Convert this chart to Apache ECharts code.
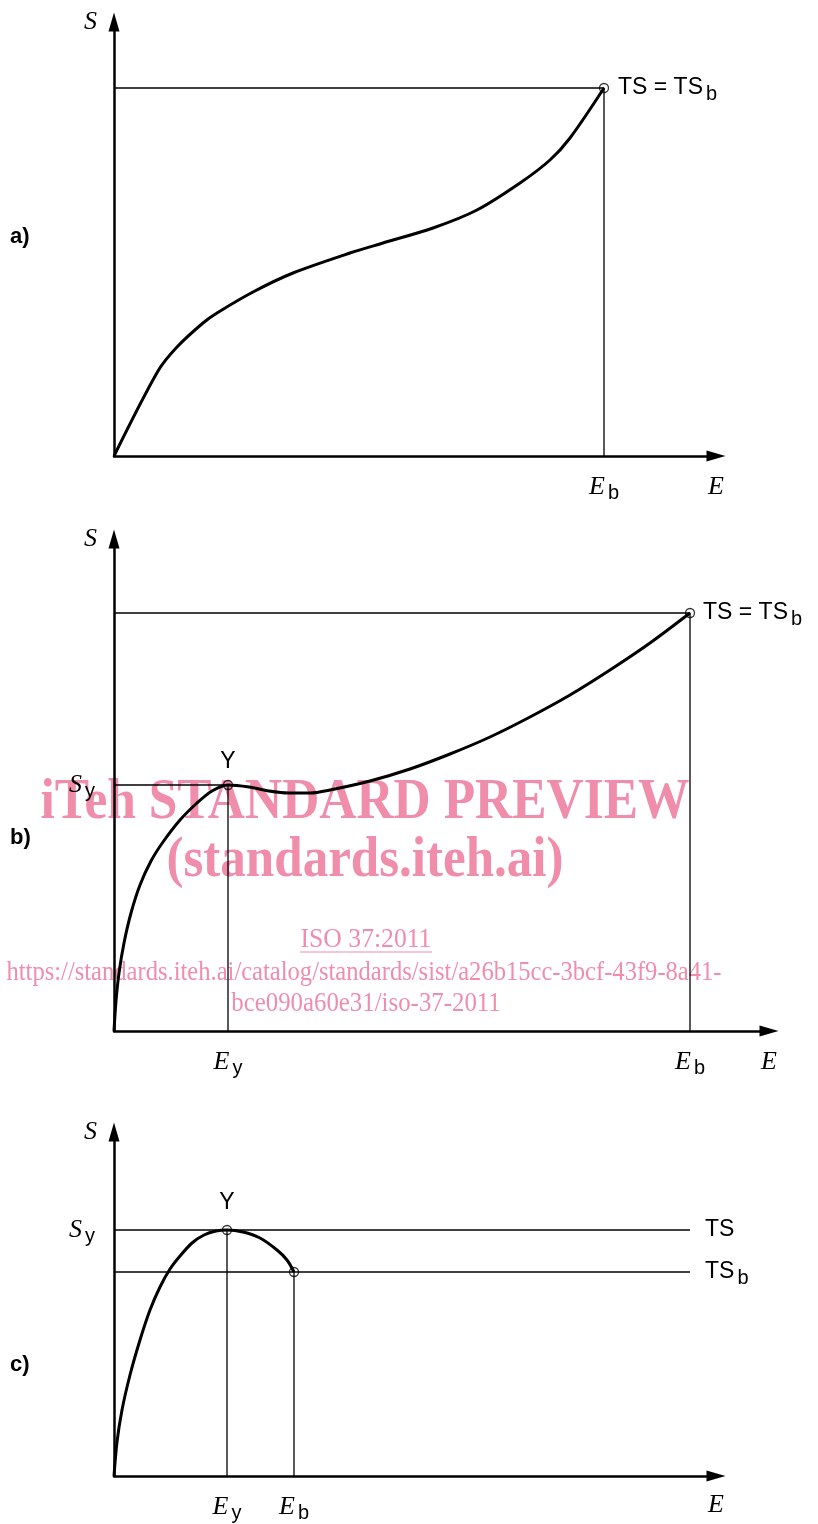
<!DOCTYPE html>
<html>
<head>
<meta charset="utf-8">
<script src="https://cdn.jsdelivr.net/npm/echarts@6/dist/echarts.min.js"></script>
<style>
  html, body { margin: 0; padding: 0; background: #fff; }
  #chart { width: 818px; height: 1524px; }
</style>
</head>
<body>
<div id="chart"></div>
<script>
// values are in plot units (E to the right, S upwards, origin at the axes' corner)

// a) curve without yield point
const aCurveE = [0, 44, 63, 89, 103, 139, 179, 236, 269, 319, 363, 406, 436, 456, 490];
const aCurveS = [0, 85, 109, 133, 143, 164, 183, 203, 213, 228, 246, 273, 296, 318, 368];
const aEb = 490, aTSb = 368;
const aAxisMax = [602, 434];

// b) yield point, break above it
const bCurveE = [0, 2, 5, 10, 17, 26, 37, 49, 66, 83, 98, 114, 135, 155, 175, 196, 216, 256, 296, 336, 376, 416, 456, 496, 536, 576];
const bCurveS = [0, 30, 58, 88, 118, 146, 170, 189, 211, 228, 240, 246, 244, 240, 238, 238, 241, 250, 262, 277, 294, 314, 336, 361, 388, 418];
const bEy = 114, bSy = 246, bEb = 576, bTSb = 418;
const bAxisMax = [655, 492];

// c) yield point is the maximum, break below it
const cCurveE = [0, 3, 8, 16, 26, 36, 46, 56, 66, 78, 90, 102, 113, 129, 146, 163, 173, 180];
const cCurveS = [0, 34, 66, 101, 136, 166, 189, 207, 220, 233, 241, 245, 246, 244, 238, 226, 216, 204];
const cEy = 113, cSy = 246, cEb = 180, cTSb = 204;
const cLineEnd = 576;
const cAxisMax = [602, 344];

const pink = '#ef8dab';
const serif = '"Liberation Serif", "Times New Roman", serif';
const sans = '"Liberation Sans", Arial, sans-serif';

const zip = (xs, ys) => xs.map((x, i) => [x, ys[i]]);

const chart = echarts.init(document.getElementById('chart'));

const axisLine = {
    show: true,
    onZero: false,
    symbol: ['none', 'triangle'],
    symbolSize: [11, 19],
    lineStyle: {color: '#000', width: 2.5}
};

const makeAxis = (gridIndex, max) => ({
    type: 'value',
    gridIndex: gridIndex,
    min: 0,
    max: max,
    zlevel: 1,
    axisLine: axisLine,
    axisTick: {show: false},
    axisLabel: {show: false},
    splitLine: {show: false}
});

const curve = (i, data) => ({
    type: 'line',
    xAxisIndex: i,
    yAxisIndex: i,
    data: data,
    showSymbol: false,
    smooth: 0.3,
    lineStyle: {color: '#000', width: 3},
    zlevel: 1,
    z: 4,
    silent: true
});

const guide = (i, data) => ({
    type: 'line',
    xAxisIndex: i,
    yAxisIndex: i,
    data: data,
    showSymbol: false,
    lineStyle: {color: '#000', width: 1.3},
    zlevel: 1,
    z: 3,
    silent: true
});

const dots = (i, data) => ({
    type: 'scatter',
    xAxisIndex: i,
    yAxisIndex: i,
    data: data,
    symbol: 'circle',
    symbolSize: 9,
    itemStyle: {color: 'rgba(0,0,0,0)', borderColor: '#000', borderWidth: 1.3},
    zlevel: 1,
    z: 5,
    silent: true
});

chart.setOption({
    animation: false,
    grid: [
        {left: 114, top: 456 - aAxisMax[1], width: aAxisMax[0], height: aAxisMax[1]},
        {left: 114, top: 1031 - bAxisMax[1], width: bAxisMax[0], height: bAxisMax[1]},
        {left: 114, top: 1476 - cAxisMax[1], width: cAxisMax[0], height: cAxisMax[1]}
    ],
    xAxis: [makeAxis(0, aAxisMax[0]), makeAxis(1, bAxisMax[0]), makeAxis(2, cAxisMax[0])],
    yAxis: [makeAxis(0, aAxisMax[1]), makeAxis(1, bAxisMax[1]), makeAxis(2, cAxisMax[1])],
    series: [
        curve(0, zip(aCurveE, aCurveS)),
        guide(0, [[0, aTSb], [aEb, aTSb], [aEb, 0]]),
        dots(0, [[aEb, aTSb]]),

        curve(1, zip(bCurveE, bCurveS)),
        guide(1, [[0, bTSb], [bEb, bTSb], [bEb, 0]]),
        guide(1, [[0, bSy], [bEy, bSy], [bEy, 0]]),
        dots(1, [[bEy, bSy], [bEb, bTSb]]),

        curve(2, zip(cCurveE, cCurveS)),
        guide(2, [[0, cSy], [cLineEnd, cSy]]),
        guide(2, [[0, cTSb], [cLineEnd, cTSb]]),
        guide(2, [[cEy, cSy], [cEy, 0]]),
        guide(2, [[cEb, cTSb], [cEb, 0]]),
        dots(2, [[cEy, cSy], [cEb, cTSb]])
    ]
});

const rich = {
    it: {fontFamily: serif, fontStyle: 'italic', fontSize: 26, fill: '#000'},
    rm: {fontFamily: sans, fontSize: 23, fill: '#000'},
    sub: {fontFamily: sans, fontSize: 20, fill: '#000', padding: [12, 0, 0, 3]}
};

function label(grid, pt, text, dx, dy, align) {
    const p = chart.convertToPixel({gridIndex: grid}, pt);
    return {
        type: 'text',
        x: p[0] + dx,
        y: p[1] + dy,
        zlevel: 2,
        style: {text: text, rich: rich, textAlign: align || 'center', textVerticalAlign: 'middle'}
    };
}

function tag(text, x, y) {
    return {
        type: 'text', x: x, y: y, zlevel: 2,
        style: {text: text, fontFamily: sans, fontWeight: 'bold', fontSize: 22, fill: '#000',
            textAlign: 'left', textVerticalAlign: 'middle'}
    };
}

function mark(text, x, y, size, weight, sx) {
    return {
        type: 'text', x: x, y: y, zlevel: 0, scaleX: sx,
        style: {text: text, fontFamily: serif, fontWeight: weight, fontSize: size, fill: pink,
            textAlign: 'center', textVerticalAlign: 'middle'}
    };
}

chart.setOption({
    graphic: [
        mark('iTeh STANDARD PREVIEW', 365, 803, 58, 'bold', 0.887),
        mark('(standards.iteh.ai)', 365, 861, 58, 'bold', 0.88),
        mark('ISO 37:2011', 366, 940, 27, 'normal', 0.95),
        {type: 'line', zlevel: 0, shape: {x1: 300, y1: 952, x2: 432, y2: 952}, style: {stroke: pink, lineWidth: 1.2}},
        mark('https://standards.iteh.ai/catalog/standards/sist/a26b15cc-3bcf-43f9-8a41-', 364, 973, 27, 'normal', 0.91),
        mark('bce090a60e31/iso-37-2011', 366, 1004, 27, 'normal', 0.92),

        tag('a)', 10, 237),
        label(0, [0, aAxisMax[1]], '{it|S}', -17, 0, 'right'),
        label(0, [aAxisMax[0], 0], '{it|E}', 0, 31),
        label(0, [aEb, 0], '{it|E}{sub|b}', 0, 31),
        label(0, [aEb, aTSb], '{rm|TS = TS}{sub|b}', 14, 0, 'left'),

        tag('b)', 10, 838),
        label(1, [0, bAxisMax[1]], '{it|S}', -17, 0, 'right'),
        label(1, [0, bSy], '{it|S}{sub|y}', -19, 0, 'right'),
        label(1, [bEy, bSy], '{rm|Y}', 0, -23),
        label(1, [bEy, 0], '{it|E}{sub|y}', 0, 31),
        label(1, [bEb, 0], '{it|E}{sub|b}', 0, 31),
        label(1, [bAxisMax[0], 0], '{it|E}', 0, 31),
        label(1, [bEb, bTSb], '{rm|TS = TS}{sub|b}', 13, 0, 'left'),

        tag('c)', 10, 1365),
        label(2, [0, cAxisMax[1]], '{it|S}', -17, 0, 'right'),
        label(2, [0, cSy], '{it|S}{sub|y}', -19, 0, 'right'),
        label(2, [cEy, cSy], '{rm|Y}', 0, -27),
        label(2, [cEy, 0], '{it|E}{sub|y}', 0, 31),
        label(2, [cEb, 0], '{it|E}{sub|b}', 0, 31),
        label(2, [cAxisMax[0], 0], '{it|E}', 0, 29),
        label(2, [cLineEnd, cSy], '{rm|TS}', 15, 0, 'left'),
        label(2, [cLineEnd, cTSb], '{rm|TS}{sub|b}', 15, 0, 'left')
    ]
});
</script>
</body>
</html>
